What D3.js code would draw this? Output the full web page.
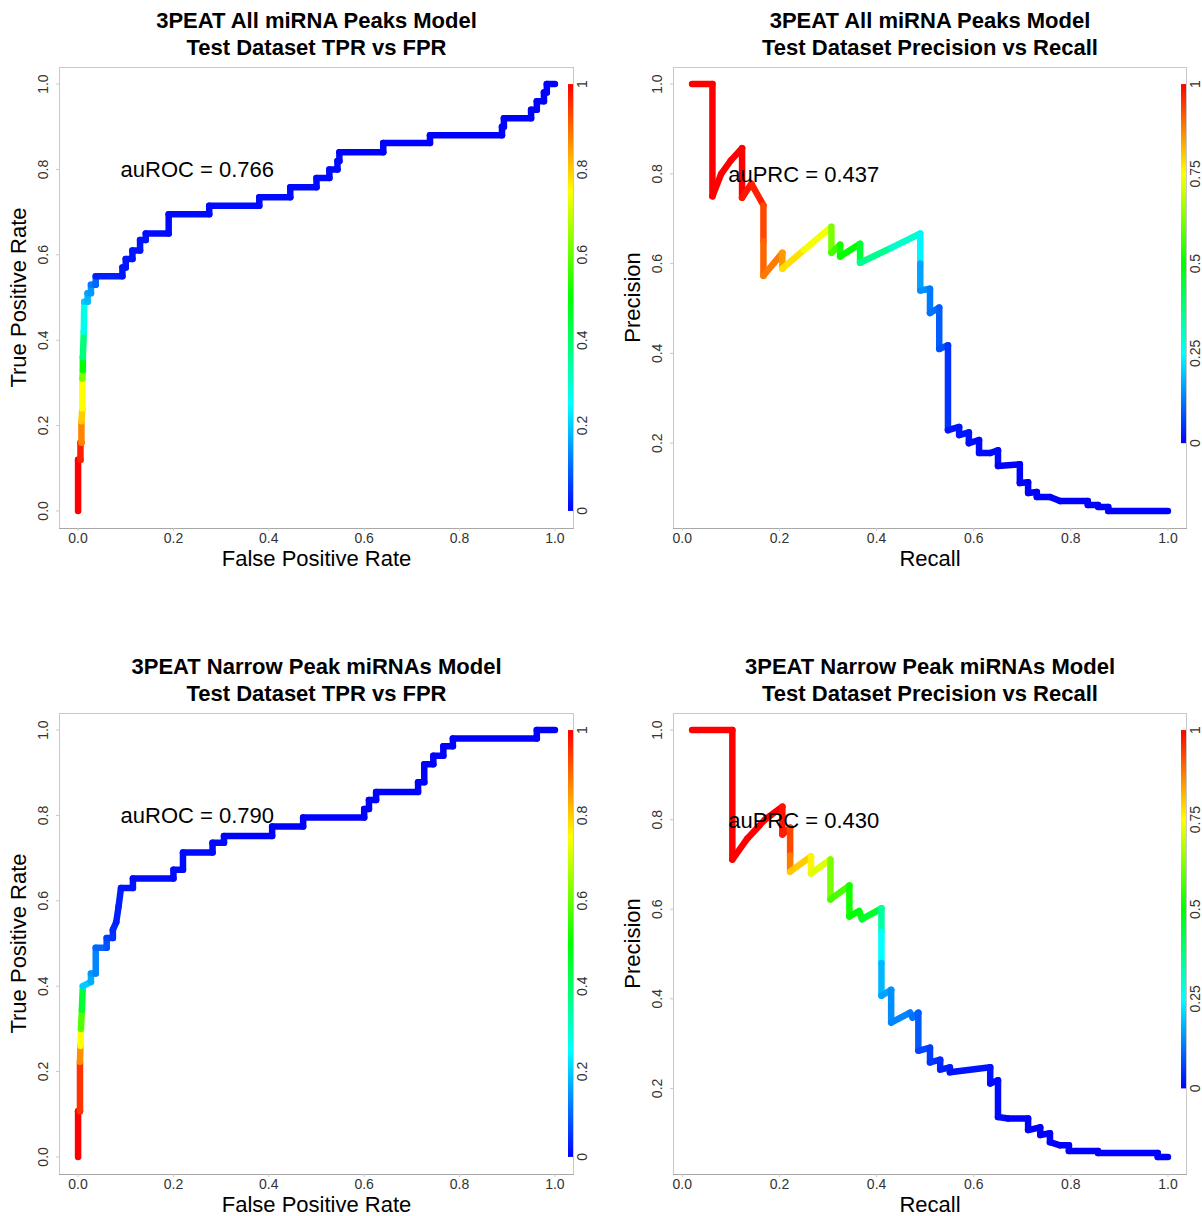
<!DOCTYPE html>
<html><head><meta charset="utf-8">
<script src="https://cdn.jsdelivr.net/npm/d3@7"></script>
<style>body{margin:0;background:#fff}svg{display:block;font-family:"Liberation Sans",Arial,Helvetica,sans-serif}</style>
</head><body><svg id="c" width="1202" height="1216"></svg>
<script>
// ---- data: [x, y, cutoff] vertices of each curve ----
const roc1 = [[0,0,1],[0,0.12,1],[0.005,0.12,1],[0.005,0.16,0.97],[0.007,0.16,0.97],[0.007,0.21,0.87],[0.009,0.24,0.8],[0.009,0.31,0.75],[0.01,0.33,0.62],[0.01,0.36,0.5],[0.012,0.42,0.38],[0.013,0.49,0.27],
[0.02,0.49,0.2],[0.02,0.51,0.18],[0.027,0.51,0.16],[0.027,0.53,0.15],[0.037,0.53,0.12],[0.037,0.55,0.1],
[0.093,0.55,0.03],[0.093,0.57,0.02],[0.1,0.57,0.02],[0.1,0.59,0.02],[0.114,0.59,0.02],[0.114,0.61,0.02],[0.13,0.61,0.02],[0.13,0.635,0.02],[0.142,0.635,0.02],[0.142,0.65,0.02],[0.19,0.65,0.01],[0.19,0.695,0.01],[0.275,0.695,0.01],[0.275,0.715,0.01],[0.38,0.715,0.01],[0.38,0.735,0.01],[0.445,0.735,0.01],[0.445,0.758,0.01],[0.5,0.758,0.01],[0.5,0.78,0.01],[0.527,0.78,0.01],[0.527,0.8,0.01],[0.544,0.8,0.01],[0.544,0.82,0.01],[0.548,0.82,0.01],[0.548,0.84,0.01],[0.64,0.84,0],[0.64,0.862,0],[0.738,0.862,0],[0.738,0.88,0],[0.889,0.88,0],[0.889,0.9,0],[0.893,0.9,0],[0.893,0.92,0],[0.95,0.92,0],[0.95,0.94,0],[0.962,0.94,0],[0.962,0.96,0],[0.977,0.96,0],[0.977,0.98,0],[0.983,0.98,0],[0.983,1,0],[1,1,0]];

const pr1 = [[0.02,1,1],[0.062,1,1],[0.062,0.75,1],[0.08,0.8,1],[0.1,0.83,1],[0.123,0.857,1],[0.123,0.747,1],[0.142,0.778,0.98],[0.167,0.73,0.97],[0.167,0.65,0.93],[0.167,0.573,0.9],[0.206,0.624,0.88],[0.206,0.589,0.85],[0.25,0.63,0.78],[0.307,0.682,0.74],[0.307,0.624,0.62],[0.325,0.642,0.56],[0.325,0.616,0.52],[0.366,0.644,0.5],[0.366,0.602,0.45],[0.43,0.635,0.36],[0.49,0.667,0.3],[0.49,0.6,0.24],[0.49,0.54,0.16],[0.51,0.544,0.14],[0.51,0.49,0.12],[0.529,0.502,0.11],[0.529,0.41,0.09],[0.547,0.418,0.08],[0.547,0.229,0.05],[0.57,0.236,0.02],[0.57,0.218,0.02],[0.59,0.224,0.02],[0.59,0.2,0.02],[0.611,0.207,0.01],[0.611,0.178,0.01],[0.634,0.178,0.01],[0.65,0.184,0.01],[0.65,0.149,0.01],[0.695,0.153,0],[0.695,0.111,0],[0.712,0.113,0],[0.712,0.089,0],[0.73,0.091,0],[0.73,0.08,0],[0.757,0.08,0],[0.778,0.071,0],[0.835,0.071,0],[0.835,0.062,0],[0.856,0.062,0],[0.856,0.058,0],[0.877,0.058,0],[0.877,0.049,0],[1,0.049,0]];

const roc2 = [[0,0,1],[0,0.107,1],[0.004,0.107,1],[0.004,0.223,0.95],[0.005,0.26,0.86],[0.006,0.3,0.75],[0.008,0.345,0.58],[0.01,0.4,0.45],[0.027,0.41,0.2],[0.027,0.43,0.17],[0.037,0.43,0.15],[0.037,0.49,0.13],[0.06,0.49,0.1],[0.06,0.513,0.08],[0.073,0.513,0.06],[0.073,0.532,0.05],[0.08,0.55,0.04],[0.085,0.587,0.03],[0.09,0.63,0.03],[0.115,0.63,0.02],[0.115,0.652,0.02],[0.2,0.652,0.01],[0.2,0.673,0.01],[0.22,0.673,0.01],[0.22,0.713,0.01],[0.282,0.713,0.01],[0.282,0.736,0.01],[0.306,0.736,0.01],[0.306,0.752,0.01],[0.407,0.752,0],[0.407,0.774,0],[0.472,0.774,0],[0.472,0.795,0],[0.6,0.795,0],[0.6,0.815,0],[0.61,0.815,0],[0.61,0.836,0],[0.625,0.836,0],[0.625,0.855,0],[0.713,0.855,0],[0.713,0.878,0],[0.726,0.878,0],[0.726,0.92,0],[0.745,0.92,0],[0.745,0.94,0],[0.766,0.94,0],[0.766,0.962,0],[0.786,0.962,0],[0.786,0.98,0],[0.962,0.98,0],[0.962,1,0],[1,1,0]];

const pr2 = [[0.02,1,1],[0.103,1,1],[0.103,0.711,1],[0.134,0.758,1],[0.17,0.8,1],[0.206,0.829,1],[0.206,0.767,0.98],[0.222,0.782,0.97],[0.222,0.72,0.93],[0.222,0.684,0.88],[0.265,0.718,0.8],[0.265,0.68,0.76],[0.305,0.711,0.72],[0.305,0.622,0.62],[0.344,0.653,0.57],[0.344,0.584,0.52],[0.364,0.596,0.5],[0.37,0.578,0.49],[0.41,0.602,0.46],[0.41,0.55,0.34],[0.41,0.48,0.25],[0.41,0.407,0.18],[0.43,0.42,0.16],[0.43,0.347,0.14],[0.469,0.369,0.13],[0.474,0.358,0.12],[0.486,0.369,0.11],[0.486,0.284,0.09],[0.51,0.291,0.07],[0.51,0.258,0.06],[0.531,0.264,0.05],[0.531,0.242,0.04],[0.551,0.247,0.03],[0.551,0.236,0.03],[0.634,0.247,0.02],[0.634,0.211,0.02],[0.65,0.218,0.01],[0.65,0.136,0.01],[0.671,0.133,0.01],[0.712,0.133,0],[0.712,0.107,0],[0.737,0.113,0],[0.737,0.096,0],[0.757,0.1,0],[0.757,0.08,0],[0.778,0.073,0],[0.796,0.073,0],[0.796,0.06,0],[0.856,0.06,0],[0.856,0.056,0],[0.979,0.056,0],[0.979,0.047,0],[1,0.047,0]];

const titles1 = ["3PEAT All miRNA Peaks Model", "Test Dataset TPR vs FPR"];
const titles2 = ["3PEAT All miRNA Peaks Model", "Test Dataset Precision vs Recall"];
const titles3 = ["3PEAT Narrow Peak miRNAs Model", "Test Dataset TPR vs FPR"];
const titles4 = ["3PEAT Narrow Peak miRNAs Model", "Test Dataset Precision vs Recall"];
const annotations = ["auROC = 0.766", "auPRC = 0.437", "auROC = 0.790", "auPRC = 0.430"];
const axisTicks = [0, 0.2, 0.4, 0.6, 0.8, 1.0];
const rocBarTicks = [0, 0.2, 0.4, 0.6, 0.8, 1];
const prBarTicks = [0, 0.25, 0.5, 0.75, 1];

// ---- drawing ----
const svg = d3.select("#c");
const hueColor = c => d3.hsl(240 * (1 - c), 1, 0.5).toString();

// colour bar gradient
const defs = svg.append("defs");
const grad = defs.append("linearGradient").attr("id", "rb")
  .attr("x1", 0).attr("y1", 1).attr("x2", 0).attr("y2", 0);
d3.range(0, 1.0001, 0.05).forEach(t => grad.append("stop").attr("offset", t).attr("stop-color", hueColor(t)));

const panels = [
  {data: roc1, titles: titles1, xlab: "False Positive Rate", ylab: "True Positive Rate", ann: annotations[0], bar: rocBarTicks, barLow: 0, left: 59, top: 67, w: 515},
  {data: pr1, titles: titles2, xlab: "Recall", ylab: "Precision", ann: annotations[1], bar: prBarTicks, barLow: 0.2, left: 673, top: 67, w: 514},
  {data: roc2, titles: titles3, xlab: "False Positive Rate", ylab: "True Positive Rate", ann: annotations[2], bar: rocBarTicks, barLow: 0, left: 59, top: 713, w: 515},
  {data: pr2, titles: titles4, xlab: "Recall", ylab: "Precision", ann: annotations[3], bar: prBarTicks, barLow: 0.2, left: 673, top: 713, w: 514}
];
const PH = 461;

function pad(ext) { const r = ext[1] - ext[0]; return [ext[0] - 0.04 * r, ext[1] + 0.04 * r]; }

panels.forEach(p => {
  const L = p.left, T = p.top, R = L + p.w, B = T + PH, cx = (L + R) / 2;
  const x = d3.scaleLinear().domain(pad(d3.extent(p.data, d => d[0]))).range([L, R]);
  const y = d3.scaleLinear().domain(pad(d3.extent(p.data, d => d[1]))).range([B, T]);
  const g = svg.append("g");

  // titles
  g.append("text").attr("x", cx).attr("y", T - 39).attr("text-anchor", "middle")
    .attr("font-size", 22).attr("font-weight", "bold").text(p.titles[0]);
  g.append("text").attr("x", cx).attr("y", T - 12).attr("text-anchor", "middle")
    .attr("font-size", 22).attr("font-weight", "bold").text(p.titles[1]);

  // box
  g.append("rect").attr("x", L + 0.5).attr("y", T + 0.5).attr("width", p.w - 1).attr("height", PH)
    .attr("fill", "none").attr("stroke", "#c8c8c8");
  g.append("line").attr("x1", L).attr("x2", R).attr("y1", B + 0.5).attr("y2", B + 0.5).attr("stroke", "#a8a8a8");

  // x axis ticks
  axisTicks.forEach(v => {
    g.append("line").attr("x1", x(v)).attr("x2", x(v)).attr("y1", B).attr("y2", B + 3).attr("stroke", "#c8c8c8");
    g.append("text").attr("x", x(v)).attr("y", B + 15).attr("text-anchor", "middle")
      .attr("font-size", 14).attr("fill", "#333").text(d3.format(".1f")(v));
  });
  // y axis ticks
  axisTicks.forEach(v => {
    if (v < y.domain()[0]) return;
    g.append("line").attr("x1", L - 3).attr("x2", L).attr("y1", y(v)).attr("y2", y(v)).attr("stroke", "#c8c8c8");
    g.append("text").attr("transform", `translate(${L - 11},${y(v)}) rotate(-90)`).attr("text-anchor", "middle")
      .attr("font-size", 14).attr("fill", "#333").text(d3.format(".1f")(v));
  });

  // axis titles
  g.append("text").attr("x", cx).attr("y", B + 38).attr("text-anchor", "middle").attr("font-size", 22).text(p.xlab);
  g.append("text").attr("transform", `translate(${L - 33},${(T + B) / 2}) rotate(-90)`).attr("text-anchor", "middle")
    .attr("font-size", 22).text(p.ylab);

  // colour bar
  const bTop = y(1), bBot = y(p.barLow);
  const bs = d3.scaleLinear().domain([0, 1]).range([bBot, bTop]);
  g.append("rect").attr("x", R - 6).attr("y", bTop).attr("width", 5).attr("height", bBot - bTop).attr("fill", "url(#rb)");
  p.bar.forEach(v => {
    g.append("text").attr("transform", `translate(${R + 13},${bs(v)}) rotate(-90)`).attr("text-anchor", "middle")
      .attr("font-size", 14).attr("fill", "#333").text(String(v));
  });

  // curve: segments coloured by cutoff
  const segs = d3.pairs(p.data);
  g.append("g").selectAll("line").data(segs).join("line")
    .attr("x1", d => x(d[0][0])).attr("y1", d => y(d[0][1]))
    .attr("x2", d => x(d[1][0])).attr("y2", d => y(d[1][1]))
    .attr("stroke", d => hueColor(d[1][2])).attr("stroke-width", 6.5).attr("stroke-linecap", "round");

  // annotation
  g.append("text").attr("x", x(0.25)).attr("y", y(0.8) + 8).attr("text-anchor", "middle")
    .attr("font-size", 22).text(p.ann);
});
</script></body></html>
